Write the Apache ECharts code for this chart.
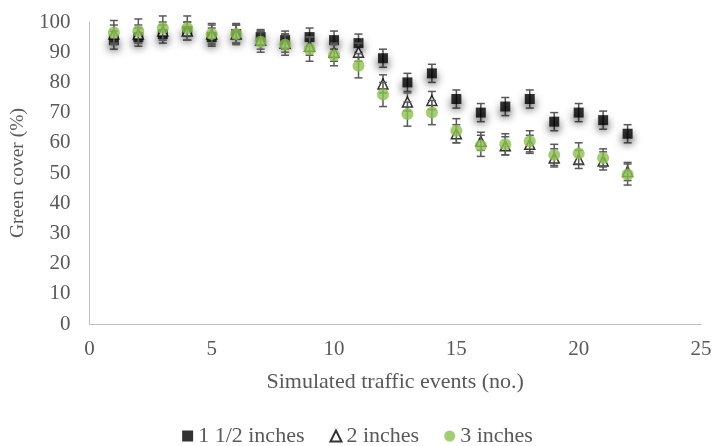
<!DOCTYPE html>
<html><head><meta charset="utf-8">
<script src="https://cdn.jsdelivr.net/npm/echarts@6/dist/echarts.min.js"></script>
<style>html,body{margin:0;padding:0;background:#fff}#c{width:715px;height:446px}</style>
</head><body><div id="c"></div>
<script>
const events = [1,2,3,4,5,6,7,8,9,10,11,12,13,14,15,16,17,18,19,20,21,22];
const inch15 = [94,95,96,97,95,96,95,94,95,94,93,88,80,83,74.5,70,72,74.5,67,70,67.5,63];
const inch15Err = [3,3,3,3,3,3,2.5,3,3,3,3,3,3,3,3,3,3,3,3,3,3,3];
const inch2 = [96,96,97,97,96,96,94,93,92,90,90,79.5,73.5,74,63,60.5,59,59.5,55,54.5,54,50.5];
const inch2Err = [3,3,3,3,3,3,3,3,3,3,3,3,3,3,3,3,3,3,3,3,3,3];
const inch3 = [96.5,97,98,98,96,96,93.5,92.5,91,89,85.5,76,69.5,70,64,59,59.5,60.5,56,56.5,55,49.5];
const inch3Err = [4,4,4,4,3.5,3.5,3.5,3.5,4,3.5,4,4,4,4,4,3.5,3.5,3.5,3.5,3.5,3,3.5];
const seriesNames = ['1 1/2 inches','2 inches','3 inches'];

const font = 'Liberation Serif';
const chart = echarts.init(document.getElementById('c'));

function pts(vals){ return events.map((x,i)=>[x, vals[i]]); }
function errData(vals, errs){ return events.map((x,i)=>[x, vals[i]-errs[i], vals[i]+errs[i]]); }
function errSeries(vals, errs, z){
  return {
    type:'custom', silent:true, z:z,
    data: errData(vals, errs),
    renderItem: function(params, api){
      const x = api.value(0);
      const lo = api.coord([x, api.value(1)]);
      const hi = api.coord([x, api.value(2)]);
      const w = 4;
      const st = {stroke:'#595959', lineWidth:1.5};
      return {type:'group', children:[
        {type:'line', shape:{x1:lo[0],y1:lo[1],x2:hi[0],y2:hi[1]}, style:st},
        {type:'line', shape:{x1:lo[0]-w,y1:lo[1],x2:lo[0]+w,y2:lo[1]}, style:st},
        {type:'line', shape:{x1:hi[0]-w,y1:hi[1],x2:hi[0]+w,y2:hi[1]}, style:st}
      ]};
    }
  };
}

chart.setOption({
  animation:false,
  textStyle:{fontFamily:font},
  grid:{left:88, right:14, top:22, bottom:122},
  legend:{
    top:420, left:'center', itemGap:25, itemWidth:11, itemHeight:11,
    textStyle:{fontFamily:font, fontSize:22, color:'#595959'},
    data:[
      {name:seriesNames[0], icon:'rect', itemStyle:{shadowBlur:0, shadowOffsetY:0, shadowColor:'transparent'}},
      {name:seriesNames[1], icon:'triangle'},
      {name:seriesNames[2], icon:'circle'}
    ]
  },
  xAxis:{
    type:'value', min:0, max:25, interval:5,
    name:'Simulated traffic events (no.)', nameLocation:'middle', nameGap:47,
    nameTextStyle:{fontFamily:font, fontSize:22, color:'#595959'},
    axisLine:{show:true, lineStyle:{color:'#bfbfbf', width:1}},
    axisTick:{show:false}, splitLine:{show:false},
    axisLabel:{fontFamily:font, fontSize:21, color:'#595959', margin:15}
  },
  yAxis:{
    type:'value', min:0, max:100, interval:10,
    name:'Green cover (%)', nameLocation:'middle', nameGap:54,
    nameTextStyle:{fontFamily:font, fontSize:19.5, color:'#595959'},
    axisLine:{show:true, lineStyle:{color:'#bfbfbf', width:1}},
    axisTick:{show:false}, splitLine:{show:false},
    axisLabel:{fontFamily:font, fontSize:21, color:'#595959', margin:19}
  },
  series:[
    errSeries(inch15, inch15Err, 1),
    {name:seriesNames[0], type:'scatter', symbol:'rect', symbolSize:10, z:2,
     itemStyle:{color:'#000', shadowBlur:8, shadowOffsetY:5, shadowColor:'rgba(0,0,0,0.85)'},
     data:pts(inch15)},
    errSeries(inch2, inch2Err, 3),
    {name:seriesNames[1], type:'scatter', symbol:'triangle', symbolSize:10, z:4,
     itemStyle:{color:'#fff', borderColor:'#000', borderWidth:1.5},
     data:pts(inch2)},
    errSeries(inch3, inch3Err, 5),
    {name:seriesNames[2], type:'scatter', symbol:'circle', symbolSize:12, z:6,
     itemStyle:{color:'#8bc14c'},
     data:pts(inch3)}
  ]
});
</script></body></html>
